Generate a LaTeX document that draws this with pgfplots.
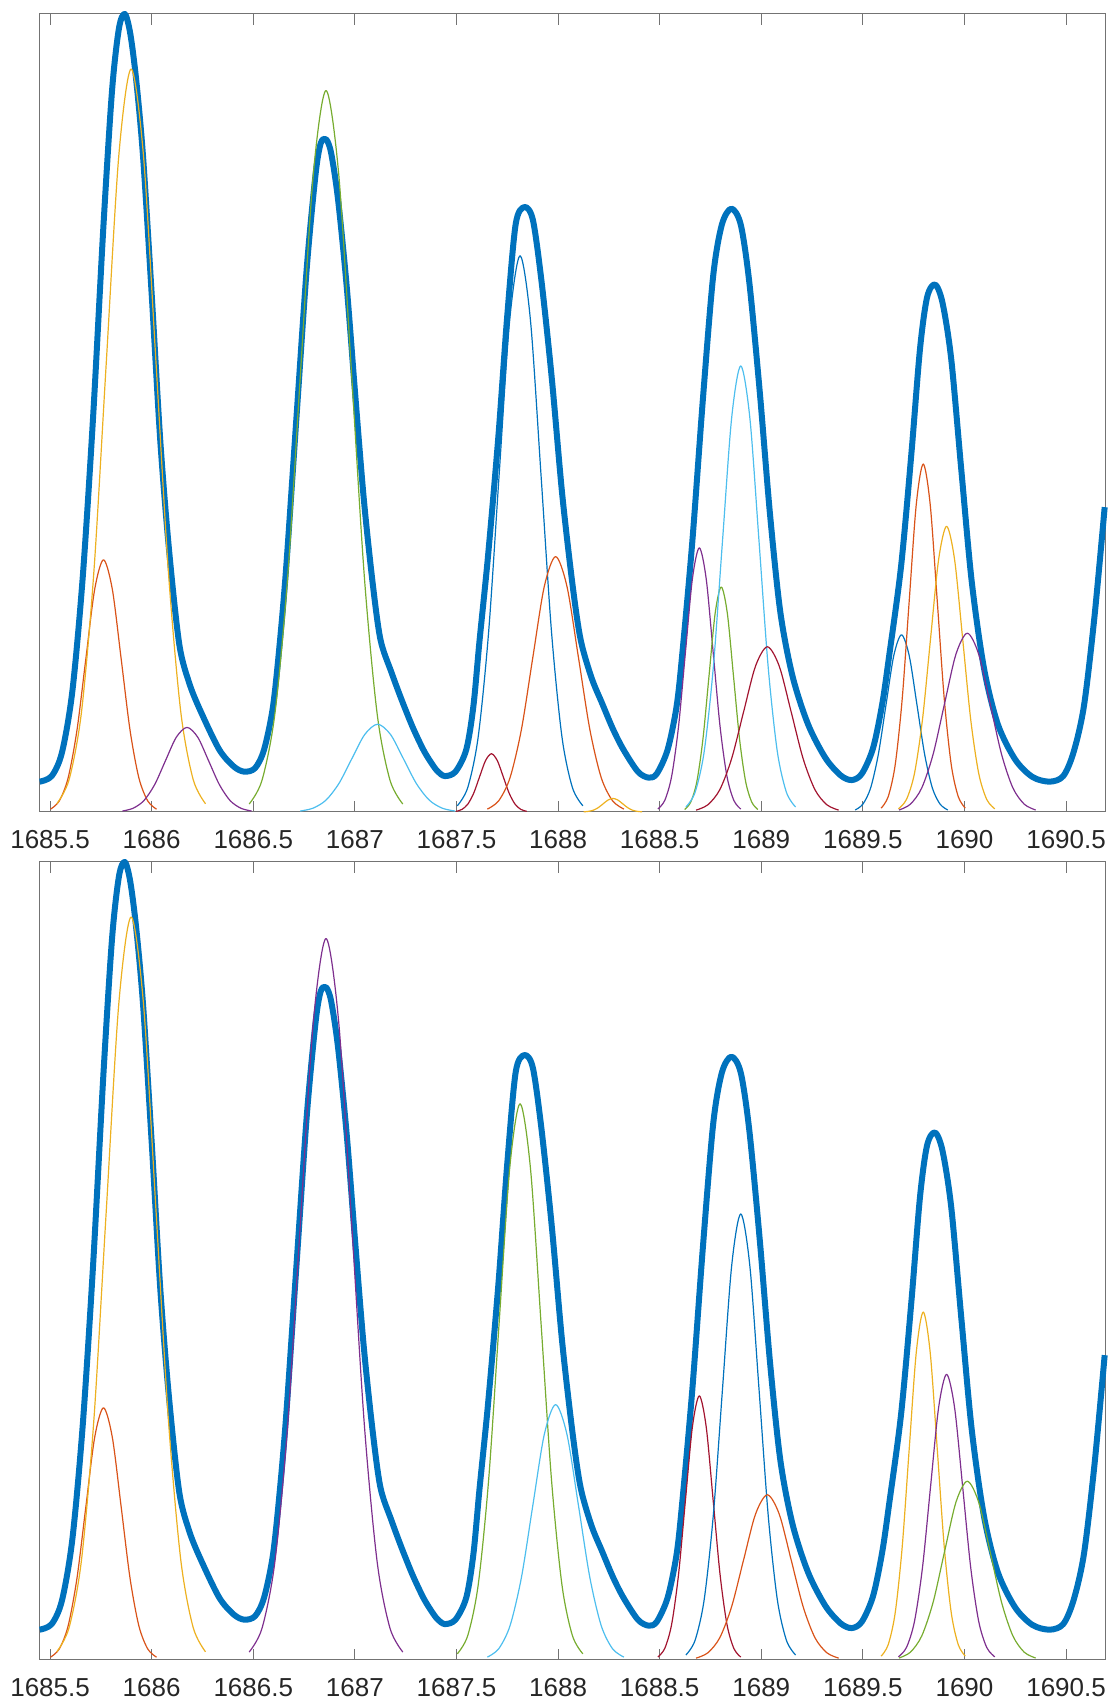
\documentclass[border=0pt]{standalone}
\usepackage{fontspec}
\setmainfont{Liberation Sans}
\usepackage{pgfplots}
\usepackage{pgfplotstable}
\pgfplotsset{compat=1.18}

% MATLAB default line colours
\definecolor{mB}{rgb}{0,0.447,0.741}
\definecolor{mO}{rgb}{0.850,0.325,0.098}
\definecolor{mY}{rgb}{0.929,0.694,0.125}
\definecolor{mP}{rgb}{0.494,0.184,0.556}
\definecolor{mG}{rgb}{0.466,0.674,0.188}
\definecolor{mL}{rgb}{0.301,0.745,0.933}
\definecolor{mR}{rgb}{0.635,0.078,0.184}

% x is stored as (wavenumber - 1685); y is relative intensity (max = 100)
\pgfplotstableread{
x y
0.449 3.8
0.508 4.5
0.559 7.5
0.610 15.2
0.661 29.5
0.712 49.6
0.763 73.6
0.805 90.4
0.839 98.2
0.868 100
0.895 97.5
0.924 91.7
0.958 82.0
1.001 64.5
1.043 46.3
1.086 32.7
1.136 21.0
1.187 16.0
1.245 12.4
1.333 7.8
1.404 5.7
1.456 5.05
1.509 5.5
1.553 7.8
1.597 13.2
1.632 21.6
1.663 31.0
1.713 49.6
1.764 68.4
1.807 80.0
1.832 83.8
1.858 84.3
1.883 82.6
1.917 76.8
1.960 65.8
2.002 52.2
2.044 39.2
2.087 28.8
2.126 21.6
2.180 17.5
2.231 14.0
2.285 10.6
2.337 7.8
2.375 6.2
2.407 5.1
2.443 4.5
2.495 5.05
2.548 7.8
2.583 13.2
2.614 21.6
2.655 32.0
2.706 47.0
2.749 61.9
2.791 73.6
2.834 75.8
2.876 74.2
2.919 66.4
2.970 54.1
3.020 39.9
3.071 28.5
3.111 21.6
3.165 16.8
3.217 13.6
3.270 10.4
3.322 7.8
3.393 5.05
3.446 4.3
3.486 4.8
3.539 7.8
3.583 13.2
3.612 20.0
3.661 34.0
3.712 51.5
3.763 67.1
3.806 73.6
3.853 75.6
3.899 73.6
3.941 66.4
3.992 52.8
4.043 37.3
4.094 25.0
4.154 17.0
4.230 11.0
4.315 6.8
4.390 4.6
4.445 4.0
4.495 4.8
4.550 8.0
4.595 13.5
4.629 19.5
4.688 30.8
4.739 45.0
4.781 58.0
4.816 64.5
4.855 66.1
4.892 63.8
4.935 56.7
4.986 42.4
5.036 28.8
5.096 18.0
5.164 11.0
5.249 6.6
5.334 4.4
5.419 3.8
5.486 4.5
5.537 7.5
5.588 13.3
5.639 24.3
5.690 38.2
}\spectrum

% fitted components
\pgfplotstableread{
x y
0.502 0.35
0.5455 1.39
0.589 4.28
0.6325 10.26
0.676 19.17
0.7195 27.89
0.763 31.6
0.8065 27.89
0.850 19.17
0.8935 10.26
0.937 4.28
0.9805 1.39
1.024 0.35
}\cmpA
\pgfplotstableread{
x y
0.533 1.03
0.594 4.09
0.655 12.60
0.716 30.23
0.777 56.47
0.838 82.16
0.899 93.1
0.960 82.16
1.021 56.47
1.082 30.23
1.143 12.60
1.204 4.09
1.265 1.03
}\cmpB
\pgfplotstableread{
x y
0.856 0.12
0.909 0.47
0.962 1.43
1.015 3.44
1.068 6.43
1.121 9.36
1.174 10.6
1.227 9.36
1.280 6.43
1.333 3.44
1.386 1.43
1.439 0.47
1.492 0.12
}\cmpC
\pgfplotstableread{
x y
1.480 1.00
1.543 3.97
1.606 12.23
1.669 29.35
1.732 54.83
1.795 79.78
1.858 90.4
1.921 79.78
1.984 54.83
2.047 29.35
2.110 12.23
2.173 3.97
2.236 1.00
}\cmpD
\pgfplotstableread{
x y
1.731 0.12
1.7945 0.48
1.858 1.49
1.9215 3.57
1.985 6.67
2.0485 9.71
2.112 11.0
2.1755 9.71
2.239 6.67
2.3025 3.57
2.366 1.49
2.4295 0.48
2.493 0.12
}\cmpE
\pgfplotstableread{
x y
2.498 0.08
2.527 0.32
2.556 0.99
2.585 2.37
2.614 4.43
2.643 6.44
2.672 7.3
2.701 6.44
2.730 4.43
2.759 2.37
2.788 0.99
2.817 0.32
2.846 0.08
}\cmpF
\pgfplotstableread{
x y
2.504 0.77
2.5555 3.06
2.607 9.43
2.6585 22.63
2.710 42.27
2.7615 61.51
2.813 69.7
2.8645 61.51
2.916 42.27
2.9675 22.63
3.019 9.43
3.0705 3.06
3.122 0.77
}\cmpG
\pgfplotstableread{
x y
2.652 0.36
2.708 1.41
2.764 4.33
2.820 10.39
2.876 19.41
2.932 28.24
2.988 32.0
3.044 28.24
3.100 19.41
3.156 10.39
3.212 4.33
3.268 1.41
3.324 0.36
}\cmpH
\pgfplotstableread{
x y
3.126 0.02
3.150 0.08
3.174 0.23
3.198 0.55
3.222 1.03
3.246 1.50
3.270 1.7
3.294 1.50
3.318 1.03
3.342 0.55
3.366 0.23
3.390 0.08
3.414 0.02
}\cmpI
\pgfplotstableread{
x y
3.491 0.37
3.525 1.45
3.559 4.48
3.593 10.75
3.627 20.08
3.661 29.21
3.695 33.1
3.729 29.21
3.763 20.08
3.797 10.75
3.831 4.48
3.865 1.45
3.899 0.37
}\cmpJ
\pgfplotstableread{
x y
3.623 0.31
3.653 1.24
3.683 3.82
3.713 9.16
3.743 17.10
3.773 24.89
3.803 28.2
3.833 24.89
3.863 17.10
3.893 9.16
3.923 3.82
3.953 1.24
3.983 0.31
}\cmpK
\pgfplotstableread{
x y
3.629 0.62
3.674 2.45
3.719 7.56
3.764 18.15
3.809 33.90
3.854 49.33
3.899 55.9
3.944 49.33
3.989 33.90
4.034 18.15
4.079 7.56
4.124 2.45
4.169 0.62
}\cmpL
\pgfplotstableread{
x y
3.679 0.23
3.7375 0.91
3.796 2.80
3.8545 6.72
3.913 12.55
3.9715 18.27
4.030 20.7
4.0885 18.27
4.147 12.55
4.2055 6.72
4.264 2.80
4.3225 0.91
4.381 0.23
}\cmpM
\pgfplotstableread{
x y
4.462 0.25
4.500 0.98
4.538 3.00
4.576 7.21
4.614 13.46
4.652 19.59
4.690 22.2
4.728 19.59
4.766 13.46
4.804 7.21
4.842 3.00
4.880 0.98
4.918 0.25
}\cmpN
\pgfplotstableread{
x y
4.590 0.48
4.6245 1.91
4.659 5.90
4.6935 14.16
4.728 26.44
4.7625 38.48
4.797 43.6
4.8315 38.48
4.866 26.44
4.9005 14.16
4.935 5.90
4.9695 1.91
5.004 0.48
}\cmpO
\pgfplotstableread{
x y
4.675 0.40
4.7145 1.57
4.754 4.84
4.7935 11.62
4.833 21.71
4.8725 31.59
4.912 35.8
4.9515 31.59
4.991 21.71
5.0305 11.62
5.070 4.84
5.1095 1.57
5.149 0.40
}\cmpP
\pgfplotstableread{
x y
4.678 0.25
4.734 0.98
4.790 3.03
4.846 7.27
4.902 13.59
4.958 19.77
5.014 22.4
5.070 19.77
5.126 13.59
5.182 7.27
5.238 3.03
5.294 0.98
5.350 0.25
}\cmpQ

\pgfplotsset{
  specaxis/.style={
    scale only axis, width=533pt, height=399pt,
    xmin=0.449, xmax=5.695, ymin=0, ymax=100,
    xtick={0.5,1,1.5,2,2.5,3,3.5,4,4.5,5,5.5},
    xticklabels={1685.5,1686,1686.5,1687,1687.5,1688,1688.5,1689,1689.5,1690,1690.5},
    ytick=\empty,
    xtick pos=both, xticklabel pos=lower,
    tick align=inside,
    major tick length=5.3pt,
    axis line style={draw=black!55, line width=0.5pt},
    major tick style={draw=black!55, line width=0.5pt},
    xticklabel style={font=\fontsize{13}{15}\selectfont, text=black!85},
    xticklabel shift=5.5pt,
    clip=false,
    every axis plot/.append style={line width=0.6pt, smooth, mark=none, line join=round},
  },
  sumline/.style={mB, line width=3pt},
}

\begin{document}
\begin{tikzpicture}
\path[use as bounding box] (0,0) rectangle (555pt,853pt);

\begin{axis}[specaxis, at={(19.85pt,447pt)}, anchor=south west]
  \addplot[sumline] table {\spectrum};
  \addplot[mO] table {\cmpA};
  \addplot[mY] table {\cmpB};
  \addplot[mP] table {\cmpC};
  \addplot[mG] table {\cmpD};
  \addplot[mL] table {\cmpE};
  \addplot[mR] table {\cmpF};
  \addplot[mB] table {\cmpG};
  \addplot[mO] table {\cmpH};
  \addplot[mY] table {\cmpI};
  \addplot[mP] table {\cmpJ};
  \addplot[mG] table {\cmpK};
  \addplot[mL] table {\cmpL};
  \addplot[mR] table {\cmpM};
  \addplot[mB] table {\cmpN};
  \addplot[mO] table {\cmpO};
  \addplot[mY] table {\cmpP};
  \addplot[mP] table {\cmpQ};
\end{axis}

\begin{axis}[specaxis, at={(19.85pt,23pt)}, anchor=south west]
  \addplot[sumline] table {\spectrum};
  \addplot[mO] table {\cmpA};
  \addplot[mY] table {\cmpB};
  \addplot[mP] table {\cmpD};
  \addplot[mG] table {\cmpG};
  \addplot[mL] table {\cmpH};
  \addplot[mR] table {\cmpJ};
  \addplot[mB] table {\cmpL};
  \addplot[mO] table {\cmpM};
  \addplot[mY] table {\cmpO};
  \addplot[mP] table {\cmpP};
  \addplot[mG] table {\cmpQ};
\end{axis}
\end{tikzpicture}
\end{document}
